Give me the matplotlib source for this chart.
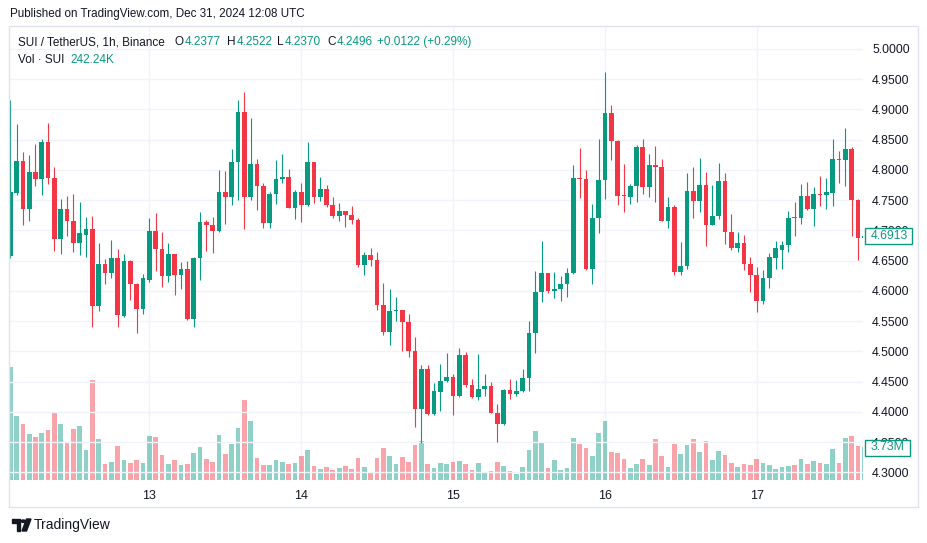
import matplotlib
matplotlib.use("Agg")
import matplotlib.pyplot as plt
from matplotlib.patches import Rectangle, Circle, Polygon
import numpy as np

W, H = 928, 543

# ---------------- data (SUI/USDT 1h) ----------------
opens = [4.658, 4.762, 4.815, 4.736, 4.796, 4.785, 4.846, 4.787, 4.686, 4.735,
         4.715, 4.679, 4.693, 4.702, 4.575, 4.644, 4.629, 4.654, 4.558, 4.649,
         4.612, 4.570, 4.618, 4.699, 4.669, 4.624, 4.661, 4.626, 4.636, 4.553,
         4.654, 4.714, 4.709, 4.699, 4.763, 4.755, 4.813, 4.896, 4.755, 4.810,
         4.773, 4.712, 4.760, 4.784, 4.788, 4.737, 4.763, 4.742, 4.813, 4.755,
         4.768, 4.742, 4.724, 4.732, 4.725, 4.717, 4.643, 4.659, 4.651, 4.577,
         4.532, 4.566, 4.568, 4.548, 4.500, 4.405, 4.471, 4.396, 4.432, 4.451,
         4.457, 4.426, 4.494, 4.444, 4.424, 4.437, 4.443, 4.398, 4.380, 4.436,
         4.429, 4.434, 4.455, 4.530, 4.598, 4.629, 4.600, 4.603, 4.611, 4.629,
         4.786, 4.785, 4.636, 4.720, 4.783, 4.894, 4.848, 4.757, 4.755, 4.773,
         4.838, 4.772, 4.808, 4.805, 4.715, 4.739, 4.631, 4.641, 4.765, 4.748,
         4.775, 4.709, 4.724, 4.781, 4.697, 4.671, 4.679, 4.644, 4.626, 4.583,
         4.621, 4.655, 4.668, 4.675, 4.722, 4.720, 4.757, 4.735, 4.760, 4.759,
         4.762, 4.818, 4.816, 4.834, 4.750, 4.687]
highs = [4.915, 4.876, 4.829, 4.825, 4.843, 4.851, 4.877, 4.805, 4.752, 4.757,
         4.760, 4.747, 4.722, 4.724, 4.679, 4.653, 4.684, 4.669, 4.661, 4.651,
         4.613, 4.628, 4.720, 4.729, 4.697, 4.679, 4.661, 4.648, 4.649, 4.656,
         4.730, 4.717, 4.722, 4.800, 4.798, 4.834, 4.915, 4.929, 4.886, 4.818,
         4.778, 4.763, 4.816, 4.826, 4.801, 4.767, 4.778, 4.846, 4.813, 4.788,
         4.775, 4.755, 4.745, 4.732, 4.740, 4.720, 4.664, 4.671, 4.664, 4.613,
         4.603, 4.590, 4.568, 4.562, 4.524, 4.477, 4.477, 4.448, 4.479, 4.497,
         4.462, 4.505, 4.499, 4.454, 4.496, 4.462, 4.449, 4.413, 4.438, 4.454,
         4.453, 4.471, 4.550, 4.633, 4.682, 4.629, 4.631, 4.624, 4.638, 4.808,
         4.836, 4.800, 4.744, 4.851, 4.962, 4.907, 4.849, 4.810, 4.777, 4.841,
         4.851, 4.826, 4.839, 4.818, 4.755, 4.742, 4.681, 4.795, 4.805, 4.820,
         4.796, 4.775, 4.811, 4.795, 4.727, 4.697, 4.692, 4.656, 4.639, 4.634,
         4.662, 4.682, 4.682, 4.732, 4.747, 4.777, 4.780, 4.772, 4.790, 4.786,
         4.851, 4.831, 4.869, 4.838, 4.751, 4.695]
lows = [4.654, 4.758, 4.709, 4.716, 4.773, 4.758, 4.777, 4.666, 4.661, 4.691,
        4.664, 4.659, 4.656, 4.540, 4.567, 4.611, 4.621, 4.540, 4.557, 4.585,
        4.530, 4.562, 4.615, 4.633, 4.606, 4.615, 4.593, 4.603, 4.552, 4.540,
        4.618, 4.666, 4.662, 4.697, 4.710, 4.742, 4.750, 4.702, 4.750, 4.734,
        4.704, 4.704, 4.744, 4.778, 4.737, 4.719, 4.714, 4.740, 4.745, 4.748,
        4.739, 4.720, 4.715, 4.705, 4.710, 4.639, 4.626, 4.641, 4.568, 4.527,
        4.510, 4.550, 4.500, 4.491, 4.375, 4.348, 4.395, 4.395, 4.401, 4.449,
        4.395, 4.425, 4.441, 4.423, 4.419, 4.426, 4.398, 4.350, 4.378, 4.421,
        4.426, 4.433, 4.434, 4.497, 4.581, 4.596, 4.588, 4.583, 4.590, 4.628,
        4.753, 4.634, 4.611, 4.696, 4.752, 4.816, 4.742, 4.730, 4.744, 4.747,
        4.760, 4.755, 4.747, 4.715, 4.704, 4.626, 4.626, 4.636, 4.720, 4.730,
        4.674, 4.708, 4.719, 4.677, 4.667, 4.664, 4.634, 4.598, 4.565, 4.578,
        4.605, 4.636, 4.636, 4.664, 4.691, 4.710, 4.734, 4.707, 4.740, 4.735,
        4.740, 4.778, 4.773, 4.691, 4.651, 4.684]
closes = [4.763, 4.815, 4.736, 4.796, 4.785, 4.846, 4.787, 4.686, 4.735, 4.715,
          4.679, 4.696, 4.702, 4.575, 4.644, 4.629, 4.654, 4.560, 4.649, 4.611,
          4.570, 4.621, 4.699, 4.669, 4.624, 4.661, 4.626, 4.636, 4.553, 4.654,
          4.714, 4.709, 4.699, 4.763, 4.755, 4.813, 4.896, 4.755, 4.810, 4.773,
          4.712, 4.760, 4.785, 4.788, 4.737, 4.763, 4.742, 4.813, 4.755, 4.768,
          4.742, 4.724, 4.732, 4.725, 4.717, 4.643, 4.659, 4.651, 4.577, 4.532,
          4.567, 4.568, 4.548, 4.500, 4.405, 4.471, 4.396, 4.434, 4.451, 4.457,
          4.426, 4.494, 4.444, 4.424, 4.438, 4.443, 4.398, 4.380, 4.436, 4.429,
          4.434, 4.456, 4.530, 4.598, 4.629, 4.600, 4.603, 4.611, 4.629, 4.786,
          4.785, 4.636, 4.720, 4.783, 4.894, 4.848, 4.757, 4.756, 4.773, 4.838,
          4.772, 4.808, 4.805, 4.715, 4.739, 4.631, 4.641, 4.765, 4.748, 4.775,
          4.709, 4.724, 4.781, 4.697, 4.671, 4.679, 4.644, 4.626, 4.583, 4.621,
          4.656, 4.671, 4.676, 4.720, 4.720, 4.757, 4.735, 4.760, 4.759, 4.763,
          4.818, 4.816, 4.834, 4.750, 4.687, 4.6913]
volumes_m = [12.80, 7.23, 6.33, 5.20, 4.86, 5.31, 5.65, 7.57, 6.33, 4.18,
             5.76, 6.10, 3.39, 11.30, 4.63, 1.81, 2.03, 3.84, 2.26, 1.92,
             2.26, 1.92, 4.97, 4.86, 2.83, 1.81, 2.26, 1.70, 1.81, 3.05,
             3.73, 2.37, 2.03, 5.09, 2.94, 4.07, 5.88, 9.04, 6.67, 2.49,
             1.70, 1.70, 2.26, 2.03, 1.81, 1.92, 2.71, 3.39, 1.58, 1.24,
             1.47, 1.13, 1.36, 1.58, 1.24, 2.49, 1.47, 0.90, 2.49, 3.62,
             2.71, 1.81, 2.60, 2.03, 3.96, 4.41, 1.81, 1.36, 1.92, 1.81,
             2.03, 2.15, 1.81, 1.13, 1.92, 0.79, 1.02, 2.03, 1.58, 1.02,
             0.68, 1.47, 3.39, 5.54, 4.29, 1.36, 2.26, 1.13, 1.36, 4.75,
             4.07, 3.62, 2.71, 5.31, 6.67, 3.16, 3.05, 2.37, 1.36, 1.81,
             2.37, 1.70, 4.63, 2.71, 1.47, 4.07, 2.94, 3.96, 4.63, 3.16,
             4.41, 2.26, 3.28, 2.83, 1.92, 1.47, 1.81, 1.70, 2.37, 1.92,
             1.70, 1.24, 1.47, 1.58, 1.70, 2.37, 1.81, 2.15, 1.92, 1.81,
             3.50, 1.92, 4.75, 4.97, 3.84, 3.73]
day_index = [22, 46, 70, 94, 118]
day_labels = ["13", "14", "15", "16", "17"]
price_ticks = [4.30, 4.35, 4.40, 4.45, 4.50, 4.55, 4.60, 4.65, 4.70, 4.75,
               4.80, 4.85, 4.90, 4.95, 5.00]
last_price_label = "4.6913"
last_volume_label = "3.73M"
ohlc_labels = ["O", "H", "L", "C"]
ohlc_values = ["4.2377", "4.2522", "4.2370", "4.2496"]
change_text = "+0.0122 (+0.29%)"

# ---------------- style ----------------
GREEN = "#089981"
RED = "#F23645"
TXT = "#131722"
GRID = "#f0f3fa"
FRAME = "#e0e3eb"
FONT = "Liberation Sans"
FS = 8.5
plt.rcParams["font.family"] = [FONT, "DejaVu Sans"]


def fx(px):
    return px / W


def fy(py):
    return 1 - py / H


fig = plt.figure(figsize=(W / 100, H / 100), dpi=100)
fig.patch.set_facecolor("white")
renderer = fig.canvas.get_renderer()

L, R, T, B = 10, 863, 27, 480
ax_v = fig.add_axes([fx(L), fy(B), (R - L) / W, (B - T) / H])
ax = ax_v.twinx()

o = np.array(opens)
h = np.array(highs)
lo = np.array(lows)
c = np.array(closes)
v = np.array(volumes_m)
idx = np.arange(len(o))
up = c >= o
cols = np.where(up, GREEN, RED)

# volume
vcols = [(8/255, 153/255, 129/255, 0.45) if u else (242/255, 54/255, 69/255, 0.45) for u in up]
ax_v.bar(idx, v, width=0.74, color=vcols, linewidth=0, zorder=2)
ax_v.set_ylim(0, 3.73 * 453 / 33)
ax_v.set_yticks([])
ax_v.set_xticks(day_index)
ax_v.set_xticklabels(day_labels, fontsize=9, color=TXT)
ax_v.tick_params(axis="x", length=0, pad=7)
ax_v.grid(axis="x", color=GRID, linewidth=1, zorder=0)
ax_v.set_axisbelow(True)

# candles
ax.vlines(idx, lo, h, colors=cols, linewidth=0.8, zorder=3)
body = np.maximum(np.abs(c - o), 0.0017)
ax.bar(idx, body, bottom=np.minimum(o, c), width=0.74, color=cols, linewidth=0, zorder=4)
ax.set_ylim(4.2872, 5.0361)
ax.set_xlim(-0.03, 134.8)
ax.set_yticks(price_ticks)
ax.set_yticklabels([f"{p:.4f}" for p in price_ticks], fontsize=8.8, color=TXT)
ax.tick_params(axis="y", length=0, pad=6.5)
ax.grid(axis="y", color=GRID, linewidth=1)
ax.set_axisbelow(True)
ax.patch.set_visible(False)

for a in (ax, ax_v):
    for s in a.spines.values():
        s.set_visible(False)

# outer frame
fig.add_artist(Rectangle((fx(9), fy(507)), (918 - 9) / W, (507 - 26) / H,
                         transform=fig.transFigure, fill=False,
                         edgecolor=FRAME, linewidth=1, zorder=1))


def label_box(x0, y0, x1, y1, text):
    fig.add_artist(Rectangle((fx(x0), fy(y1)), (x1 - x0) / W, (y1 - y0) / H,
                             transform=fig.transFigure, facecolor="white",
                             edgecolor=GREEN, linewidth=1, zorder=5))
    fig.text(fx((x0 + x1) / 2), fy((y0 + y1) / 2), text, ha="center", va="center",
             color=GREEN, fontsize=8.8, zorder=6)


label_box(865.5, 228.5, 912.5, 243.5, last_price_label)
label_box(865.5, 439.5, 910, 455.5, last_volume_label)


def ptext(px, py, s, color, fs=FS):
    t = fig.text(fx(px), fy(py), s, ha="left", va="center", fontsize=fs, color=color)
    return t


def right_px(t):
    return t.get_window_extent(renderer=renderer).x1


# header texts
ptext(10, 14.5, "Published on TradingView.com, Dec 31, 2024 12:08 UTC", TXT, 8.4)
ptext(18, 42.3, "SUI / TetherUS, 1h, Binance", TXT)
for lab, val, lx in zip(ohlc_labels, ohlc_values, [175, 227, 277, 327]):
    t = ptext(lx, 42.3, lab, TXT)
    ptext(right_px(t) + 0.8, 42.3, val, GREEN)
ptext(377, 42.3, change_text, GREEN)
t = ptext(18, 60, "Vol · SUI", TXT)
ptext(70, 60, "242.24K", GREEN)

# TradingView logo (simple shapes) + text
logo = "#131722"
fig.add_artist(Polygon([(fx(12), fy(519)), (fx(20.5), fy(519)), (fx(20.5), fy(531)),
                        (fx(16.5), fy(531)), (fx(16.5), fy(523)), (fx(12), fy(523))],
                       closed=True, transform=fig.transFigure, color=logo, zorder=5))
fig.add_artist(Circle((fx(23.3), fy(521.2)), 2.1 / W, transform=fig.transFigure,
                      color=logo, zorder=5))
fig.add_artist(Polygon([(fx(26.5), fy(519)), (fx(31), fy(519)), (fx(26.5), fy(531)),
                        (fx(22), fy(531))], closed=True, transform=fig.transFigure,
                       color=logo, zorder=5))
fig.text(fx(34), fy(525), "TradingView", ha="left", va="center", fontsize=10,
         color=TXT)

fig.savefig("out.png", dpi=100, facecolor="white")
